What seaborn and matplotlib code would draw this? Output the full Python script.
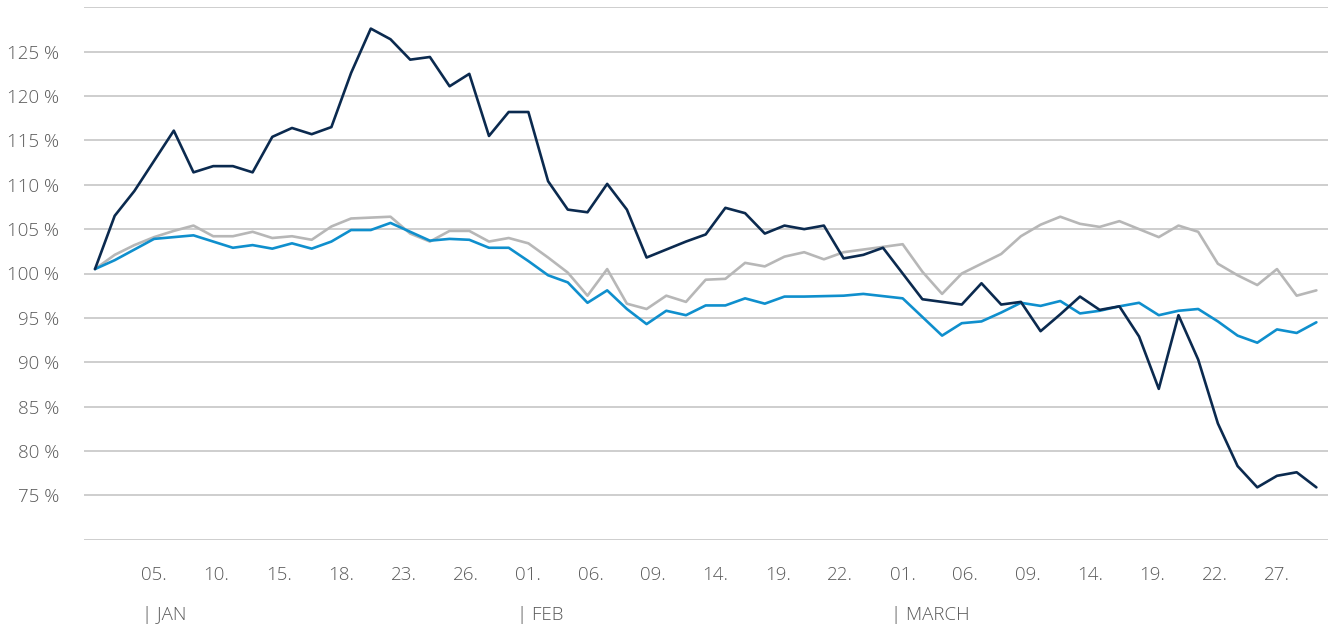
import numpy as np
import pandas as pd
import matplotlib
matplotlib.use("Agg")
import matplotlib.pyplot as plt
import matplotlib.transforms as mtransforms
import seaborn as sns

# ---- data (index of trading day, values in %) ----
dark = [100.5, 106.5, 109.3, 112.7, 116.1, 111.4, 112.1, 112.1, 111.4, 115.4,
        116.4, 115.7, 116.5, 122.6, 127.6, 126.4, 124.1, 124.4, 121.1, 122.5,
        115.5, 118.2, 118.2, 110.4, 107.2, 106.9, 110.1, 107.2, 101.8, 102.7,
        103.6, 104.4, 107.4, 106.8, 104.5, 105.4, 105.0, 105.4, 101.7, 102.1,
        102.9, 100.0, 97.1, 96.8, 96.5, 98.9, 96.5, 96.8, 93.5, 95.4,
        97.4, 95.9, 96.3, 92.9, 87.0, 95.3, 90.3, 83.1, 78.3, 75.9,
        77.2, 77.6, 75.9]
gray = [100.5, 102.1, 103.2, 104.1, 104.8, 105.4, 104.2, 104.2, 104.7, 104.0,
        104.2, 103.8, 105.3, 106.2, 106.3, 106.4, 104.5, 103.6, 104.8, 104.8,
        103.6, 104.0, 103.4, 101.8, 100.1, 97.5, 100.5, 96.6, 96.0, 97.5,
        96.8, 99.3, 99.4, 101.2, 100.8, 101.9, 102.4, 101.6, 102.4, 102.7,
        103.0, 103.3, 100.2, 97.7, 100.0, 101.1, 102.2, 104.2, 105.5, 106.4,
        105.6, 105.25, 105.9, 105.0, 104.1, 105.4, 104.7, 101.1, 99.8, 98.7,
        100.5, 97.5, 98.1]
blue = [100.5, 101.5, 102.7, 103.9, 104.1, 104.3, 103.6, 102.9, 103.2, 102.8,
        103.4, 102.8, 103.6, 104.9, 104.9, 105.7, 104.7, 103.7, 103.9, 103.8,
        102.9, 102.9, 101.4, 99.8, 99.0, 96.7, 98.1, 96.0, 94.3, 95.8,
        95.3, 96.4, 96.4, 97.2, 96.6, 97.4, 97.4, 97.45, 97.5, 97.7,
        97.45, 97.2, 95.1, 93.0, 94.4, 94.6, 95.6, 96.7, 96.35, 96.9,
        95.5, 95.8, 96.3, 96.7, 95.3, 95.8, 96.0, 94.6, 93.0, 92.2,
        93.7, 93.3, 94.5]
day_index = list(range(len(dark)))

tick_labels = ["05.", "10.", "15.", "18.", "23.", "26.", "01.", "06.", "09.", "14.",
               "19.", "22.", "01.", "06.", "09.", "14.", "19.", "22.", "27."]
month_labels = ["| JAN", "| FEB", "| MARCH"]
month_tick_pos = [0, 6, 12]   # index into tick_labels where each month starts
y_ticks = [75, 80, 85, 90, 95, 100, 105, 110, 115, 120, 125]

colors = {"gray": "#b7b7b7", "blue": "#0f8fcd", "dark": "#0b2a4f"}

df = pd.DataFrame({"t": day_index * 3,
                   "value": gray + blue + dark,
                   "series": ["gray"] * len(gray) + ["blue"] * len(blue) + ["dark"] * len(dark)})

sns.set_style("white")
plt.rcParams['font.family'] = ['Open Sans', 'DejaVu Sans']
plt.rcParams['font.weight'] = 'light'

fig = plt.figure(figsize=(13.28, 6.26), dpi=100)
ax = fig.add_axes([84 / 1328, 1 - 539.7 / 626, 1 - 84 / 1328, (539.7 - 7.3) / 626])

sns.lineplot(data=df, x="t", y="value", hue="series", palette=colors,
             hue_order=["gray", "blue", "dark"], linewidth=1.9, legend=False, ax=ax,
             estimator=None, sort=False)

# axis ranges
ax.set_xlim(-0.558, 62.59)
ax.set_ylim(70, 130)

# horizontal grid lines
for yv in [70] + y_ticks + [130]:
    ax.axhline(yv, color="#c6c6c6", linewidth=1.2, zorder=0)

ax.set_yticks(y_ticks)
ax.set_yticklabels([f"{v} %" for v in y_ticks])

n = len(tick_labels)
xt = [3 + k * (57 / (n - 1)) for k in range(n)]
ax.set_xticks(xt)
ax.set_xticklabels(tick_labels)

ax.tick_params(axis="y", length=0, pad=18, labelsize=13.5, labelcolor="#5a5a5a")
ax.tick_params(axis="x", length=0, pad=19, labelsize=13.5, labelcolor="#5a5a5a")
for lab in ax.get_xticklabels() + ax.get_yticklabels():
    lab.set_fontweight('light')

for s in ax.spines.values():
    s.set_visible(False)
ax.set_xlabel("")
ax.set_ylabel("")
ax.grid(False)

trans = mtransforms.blended_transform_factory(ax.transData, ax.transAxes)
for lab, k in zip(month_labels, month_tick_pos):
    ax.text(xt[k] - 0.6, -0.1410, lab, transform=trans, ha="left", va="center",
            fontsize=13.5, color="#5a5a5a", fontweight='light')

fig.savefig("out.png", dpi=100)
